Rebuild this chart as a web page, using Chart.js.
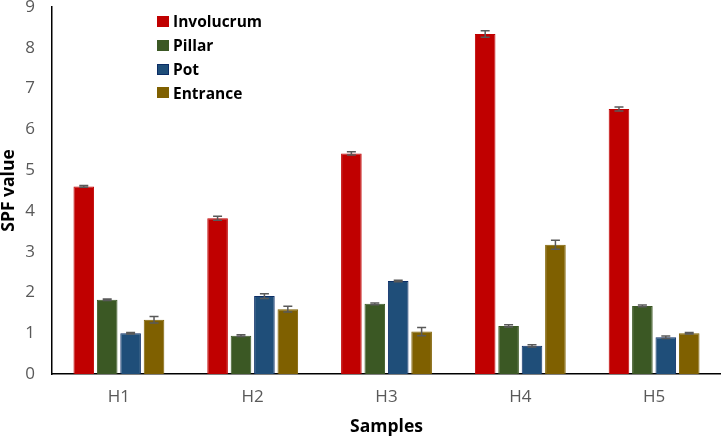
<!DOCTYPE html>
<html>
<head>
<meta charset="utf-8">
<script src="https://cdn.jsdelivr.net/npm/chart.js@4.4.1/dist/chart.umd.min.js"></script>
<style>
  body { margin: 0; background: #fff; }
  #wrap { position: relative; width: 721px; height: 438px; }
  #legend { position: absolute; left: 157px; top: 9.6px; font: bold 15.5px "Open Sans", sans-serif; color: #000; }
  #legend div { height: 23.8px; display: flex; align-items: center; }
  #legend span { display: inline-block; width: 12px; height: 11px; margin-right: 4px; box-sizing: border-box; }
</style>
</head>
<body>
<div id="wrap">
  <canvas id="chart" width="721" height="438"></canvas>
  <div id="legend"></div>
</div>
<script>
// data
const samples = ['H1', 'H2', 'H3', 'H4', 'H5'];
const involucrum = [4.60, 3.82, 5.41, 8.34, 6.50];
const pillar     = [1.82, 0.94, 1.72, 1.18, 1.67];
const pot        = [1.00, 1.91, 2.28, 0.69, 0.90];
const entrance   = [1.33, 1.59, 1.04, 3.17, 1.00];
// error bars (+/-)
const involucrumErr = [0.02, 0.05, 0.04, 0.08, 0.05];
const pillarErr     = [0.02, 0.02, 0.02, 0.03, 0.02];
const potErr        = [0.02, 0.06, 0.02, 0.03, 0.03];
const entranceErr   = [0.08, 0.07, 0.10, 0.11, 0.02];
const yTicks = [0, 1, 2, 3, 4, 5, 6, 7, 8, 9];

const series = [
  { label: 'Involucrum', data: involucrum, err: involucrumErr, fill: '#C00000', border: '#C00000' },
  { label: 'Pillar',     data: pillar,     err: pillarErr,     fill: '#3B5824', border: '#3B5824' },
  { label: 'Pot',        data: pot,        err: potErr,        fill: '#1F4E79', border: '#0B2D66' },
  { label: 'Entrance',   data: entrance,   err: entranceErr,   fill: '#7F6000', border: '#7F6000' }
];

// error bar drawing
const errorBars = {
  id: 'errorBars',
  afterDatasetsDraw(chart) {
    const ctx = chart.ctx;
    const y = chart.scales.y;
    ctx.save();
    ctx.strokeStyle = '#595959';
    ctx.lineWidth = 1.5;
    chart.data.datasets.forEach((ds, i) => {
      chart.getDatasetMeta(i).data.forEach((bar, j) => {
        const v = ds.data[j], e = ds.errs[j];
        const top = y.getPixelForValue(v + e);
        const bot = y.getPixelForValue(v - e);
        ctx.beginPath();
        ctx.moveTo(bar.x, top); ctx.lineTo(bar.x, bot);
        ctx.moveTo(bar.x - 4.5, top); ctx.lineTo(bar.x + 4.5, top);
        ctx.moveTo(bar.x - 4.5, bot); ctx.lineTo(bar.x + 4.5, bot);
        ctx.stroke();
      });
    });
    ctx.restore();
  }
};

const chart = new Chart(document.getElementById('chart'), {
  type: 'bar',
  data: {
    labels: samples,
    datasets: series.map(s => ({
      label: s.label,
      data: s.data,
      errs: s.err,
      backgroundColor: s.fill,
      borderColor: s.border,
      borderWidth: 1,
      categoryPercentage: 0.70,
      barPercentage: 0.88
    }))
  },
  options: {
    responsive: false,
    animation: false,
    layout: { padding: 0 },
    plugins: { legend: { display: false }, tooltip: { enabled: false } },
    scales: {
      x: {
        grid: { display: false, drawTicks: false },
        border: { color: '#000', width: 1.5 },
        ticks: { color: '#595959', font: { family: 'Open Sans', size: 17 }, padding: 13 },
        title: { display: true, text: 'Samples', color: '#000', font: { family: 'Open Sans', size: 17.5, weight: 'bold' }, padding: 0 },
        afterFit: s => { s.height = 64; }
      },
      y: {
        min: 0, max: 9,
        afterBuildTicks: axis => { axis.ticks = yTicks.map(v => ({ value: v })); },
        grid: { display: false, drawTicks: false },
        border: { color: '#000', width: 1.5 },
        ticks: { color: '#595959', font: { family: 'Open Sans', size: 17 }, padding: 17 },
        title: { display: true, text: 'SPF value', color: '#000', font: { family: 'Open Sans', size: 17.5, weight: 'bold' }, padding: { top: -1, bottom: 0 } },
        afterFit: s => { s.width = 52; s.paddingTop = 7; s.paddingBottom = 0; }
      }
    }
  },
  plugins: [errorBars]
});

// legend stacked vertically like the original
const legend = document.getElementById('legend');
series.forEach(s => {
  const row = document.createElement('div');
  row.innerHTML = `<span style="background:${s.fill};border:1px solid ${s.border}"></span>${s.label}`;
  legend.appendChild(row);
});
</script>
</body>
</html>
